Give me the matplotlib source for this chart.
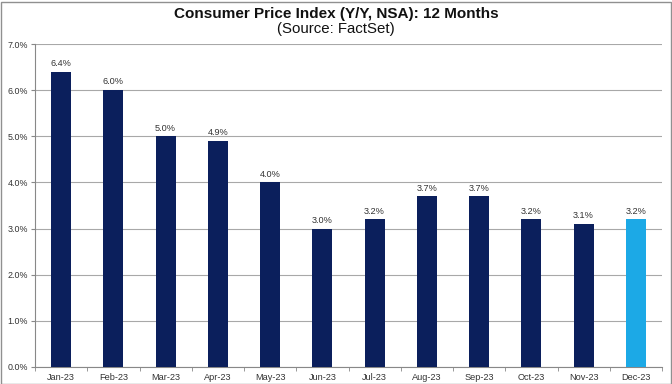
import matplotlib
matplotlib.use("Agg")
import matplotlib.pyplot as plt
from matplotlib.patches import Rectangle

months = ["Jan-23", "Feb-23", "Mar-23", "Apr-23", "May-23", "Jun-23",
          "Jul-23", "Aug-23", "Sep-23", "Oct-23", "Nov-23", "Dec-23"]
cpi = [6.4, 6.0, 5.0, 4.9, 4.0, 3.0, 3.2, 3.7, 3.7, 3.2, 3.1, 3.2]
y_ticks = [0, 1, 2, 3, 4, 5, 6, 7]

navy = "#0B1F5C"
light = "#1CA9E6"
colors = [navy] * (len(cpi) - 1) + [light]

plt.rcParams['font.family'] = ['Liberation Sans', 'DejaVu Sans']

fig = plt.figure(figsize=(6.72, 3.84), dpi=100)
ax = fig.add_axes([35/672, 1 - 367/384, (662 - 35)/672, (367 - 44)/384])

x = list(range(len(cpi)))
bars = ax.bar(x, cpi, width=0.38, color=colors, zorder=3)
for xi, v in zip(x, cpi):
    ax.text(xi, v + 0.08, f"{v:.1f}%", ha="center", va="bottom", fontsize=6.6, color="#333333")

ax.set_xlim(-0.5, len(cpi) - 0.5)
ax.set_ylim(0, 7)
ax.set_yticks(y_ticks)
ax.set_yticklabels([f"{t:.1f}%" for t in y_ticks], fontsize=6.4, color="#333333")
ax.set_xticks(x)
ax.set_xticklabels(months, fontsize=6.6, color="#333333")
ax.set_xticks([i + 0.5 for i in range(-1, len(cpi))], minor=True)
ax.tick_params(axis="x", which="major", length=0, pad=4)
ax.tick_params(axis="x", which="minor", length=3, color="#888888")
ax.tick_params(axis="y", length=3, color="#888888", pad=2)
ax.grid(axis="y", color="#A8A8A8", linewidth=0.8, zorder=0)
for s in ["top", "right"]:
    ax.spines[s].set_visible(False)
for s in ["left", "bottom"]:
    ax.spines[s].set_color("#888888")
    ax.spines[s].set_linewidth(0.8)

fig.text(0.5, 1 - 14/384, "Consumer Price Index (Y/Y, NSA): 12 Months",
         ha="center", va="center", fontsize=11, fontweight="bold", color="#111111")
fig.text(0.5, 1 - 28.5/384, "(Source: FactSet)", ha="center", va="center", fontsize=10.8,
         color="#111111")

fig.patches.append(Rectangle((0.5/672, 0.5/384), 670/672, 382/384, transform=fig.transFigure,
                             fill=False, edgecolor="#909090", linewidth=1))

fig.savefig("out.png", dpi=100)
